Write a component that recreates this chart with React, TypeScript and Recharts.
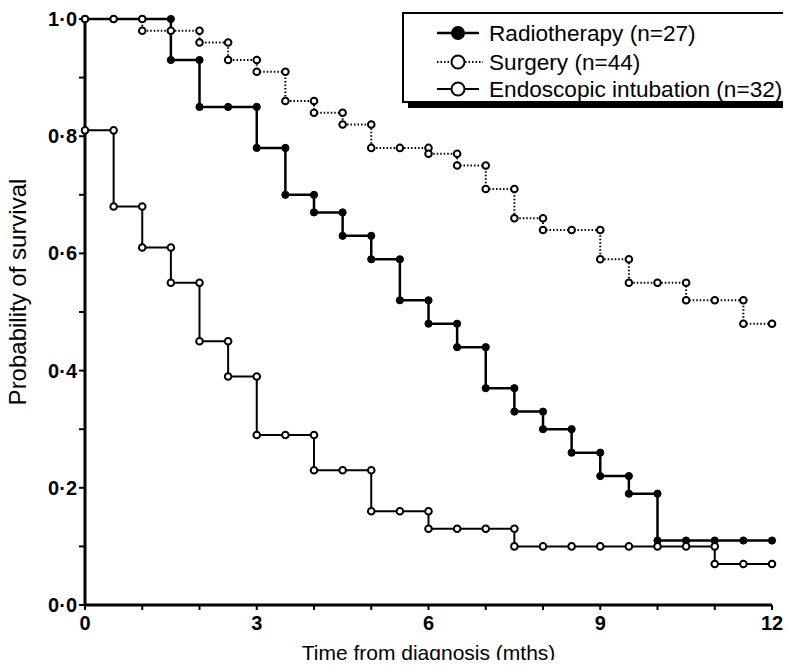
import React from 'react';
import { LineChart, Line, XAxis, YAxis, Legend } from 'recharts';

// time points every half month, survival value after any drop at that time
const months = [0, 0.5, 1, 1.5, 2, 2.5, 3, 3.5, 4, 4.5, 5, 5.5, 6, 6.5, 7, 7.5, 8, 8.5, 9, 9.5, 10, 10.5, 11, 11.5, 12];

const radiotherapy = [1.0, 1.0, 1.0, 0.93, 0.85, 0.85, 0.78, 0.70, 0.67, 0.63, 0.59, 0.52, 0.48, 0.44, 0.37, 0.33, 0.30, 0.26, 0.22, 0.19, 0.11, 0.11, 0.11, 0.11, 0.11];
const surgery = [1.0, 1.0, 0.98, 0.98, 0.96, 0.93, 0.91, 0.86, 0.84, 0.82, 0.78, 0.78, 0.77, 0.75, 0.71, 0.66, 0.64, 0.64, 0.59, 0.55, 0.55, 0.52, 0.52, 0.48, 0.48];
const endoscopic = [0.81, 0.68, 0.61, 0.55, 0.45, 0.39, 0.29, 0.29, 0.23, 0.23, 0.16, 0.16, 0.13, 0.13, 0.13, 0.10, 0.10, 0.10, 0.10, 0.10, 0.10, 0.10, 0.07, 0.07, 0.07];

const seriesNames = ['Radiotherapy (n=27)', 'Surgery (n=44)', 'Endoscopic intubation (n=32)'];

const xTicks = [0, 1, 2, 3, 4, 5, 6, 7, 8, 9, 10, 11, 12];
const yTicks = [0, 0.1, 0.2, 0.3, 0.4, 0.5, 0.6, 0.7, 0.8, 0.9, 1.0];

const FONT = '"Liberation Sans", Arial, Helvetica, sans-serif';

// Kaplan-Meier style steps: at each drop add the point before and after
const toSteps = (vals: number[]) => {
  const out: { t: number; p: number }[] = [];
  vals.forEach((v, i) => {
    if (i > 0 && vals[i - 1] !== v) out.push({ t: months[i], p: vals[i - 1] });
    out.push({ t: months[i], p: v });
  });
  return out;
};

const XTick = ({ x, y, payload }: any) => {
  if (payload.value % 3 !== 0) return <g />;
  return (
    <text x={x} y={y} dy={15} textAnchor="middle" fontSize={20} fontWeight="bold" fontFamily={FONT} fill="#000">
      {payload.value}
    </text>
  );
};

const YTick = ({ x, y, payload }: any) => {
  const v = payload.value;
  if (Math.round(v * 10) % 2 !== 0) return <g />;
  return (
    <text x={x} y={y} dy={7} textAnchor="end" fontSize={20} fontWeight="bold" fontFamily={FONT} fill="#000">
      {v.toFixed(1).replace('.', '\u00b7')}
    </text>
  );
};

const LegendBox = () => {
  const rows = [21, 50, 77];
  return (
    <svg width={394} height={100} style={{ display: 'block', overflow: 'visible' }}>
      <rect x={6} y={90} width={386} height={6} fill="#000" />
      <rect x={386} y={6} width={5} height={90} fill="#000" />
      <rect x={1} y={1} width={385} height={89} fill="#fff" stroke="#000" strokeWidth={2} />
      {/* radiotherapy */}
      <line x1={35} x2={77} y1={rows[0]} y2={rows[0]} stroke="#000" strokeWidth={2.5} />
      <circle cx={56} cy={rows[0]} r={7} fill="#000" />
      {/* surgery */}
      <line x1={35} x2={81} y1={rows[1]} y2={rows[1]} stroke="#000" strokeWidth={2} strokeDasharray="1.5 2" />
      <circle cx={56} cy={rows[1]} r={6.5} fill="#fff" stroke="#000" strokeWidth={2} />
      {/* endoscopic */}
      <line x1={35} x2={77} y1={rows[2]} y2={rows[2]} stroke="#000" strokeWidth={2} />
      <circle cx={56} cy={rows[2]} r={6.5} fill="#fff" stroke="#000" strokeWidth={2} />
      {seriesNames.map((n, i) => (
        <text key={n} x={87} y={rows[i]} dy={8} fontSize={22.6} fontFamily={FONT} fill="#000">
          {n}
        </text>
      ))}
    </svg>
  );
};

const YTitle = ({ viewBox }: any) => {
  const cx = viewBox.x - 7;
  const cy = viewBox.y + viewBox.height / 2 - 20;
  return (
    <text x={cx} y={cy} transform={`rotate(-90 ${cx} ${cy})`} textAnchor="middle" dy={8} fontSize={24} fontFamily={FONT} fill="#000">
      Probability of survival
    </text>
  );
};

export default function App() {
  return (
    <div style={{ position: 'relative', width: 791, height: 668, margin: -8, background: '#fff' }}>
      <LineChart width={791} height={668} margin={{ top: 19, right: 19, left: 25, bottom: 5 }}>
        <XAxis
          type="number"
          dataKey="t"
          domain={[0, 12]}
          ticks={xTicks}
          interval={0}
          height={58}
          tick={<XTick />}
          tickSize={5}
          tickMargin={5}
          axisLine={{ stroke: '#000', strokeWidth: 3 }}
          tickLine={{ stroke: '#000', strokeWidth: 2 }}
          label={{ value: 'Time from diagnosis (mths)', position: 'insideBottom', offset: 3, fontSize: 21, fontFamily: FONT, fill: '#000' }}
        />
        <YAxis
          type="number"
          domain={[0, 1]}
          ticks={yTicks}
          interval={0}
          width={60}
          tick={<YTick />}
          tickSize={6}
          tickMargin={2}
          axisLine={{ stroke: '#000', strokeWidth: 3 }}
          tickLine={{ stroke: '#000', strokeWidth: 2 }}
          label={<YTitle />}
        />
        <Legend
          layout="vertical"
          align="center"
          verticalAlign="middle"
          content={<LegendBox />}
          wrapperStyle={{ left: 402, top: 12, width: 394, height: 100 }}
        />
        <Line
          data={toSteps(radiotherapy)}
          dataKey="p"
          name={seriesNames[0]}
          type="linear"
          stroke="#000"
          strokeWidth={2.5}
          dot={{ r: 3.6, fill: '#000', stroke: '#000', strokeWidth: 1 }}
          activeDot={false}
          isAnimationActive={false}
        />
        <Line
          data={toSteps(surgery)}
          dataKey="p"
          name={seriesNames[1]}
          type="linear"
          stroke="#000"
          strokeWidth={2}
          strokeDasharray="1.5 2"
          dot={{ r: 3.3, fill: '#fff', stroke: '#000', strokeWidth: 2, strokeDasharray: 'none' }}
          activeDot={false}
          isAnimationActive={false}
        />
        <Line
          data={toSteps(endoscopic)}
          dataKey="p"
          name={seriesNames[2]}
          type="linear"
          stroke="#000"
          strokeWidth={2}
          dot={{ r: 3.3, fill: '#fff', stroke: '#000', strokeWidth: 2 }}
          activeDot={false}
          isAnimationActive={false}
        />
      </LineChart>
    </div>
  );
}
